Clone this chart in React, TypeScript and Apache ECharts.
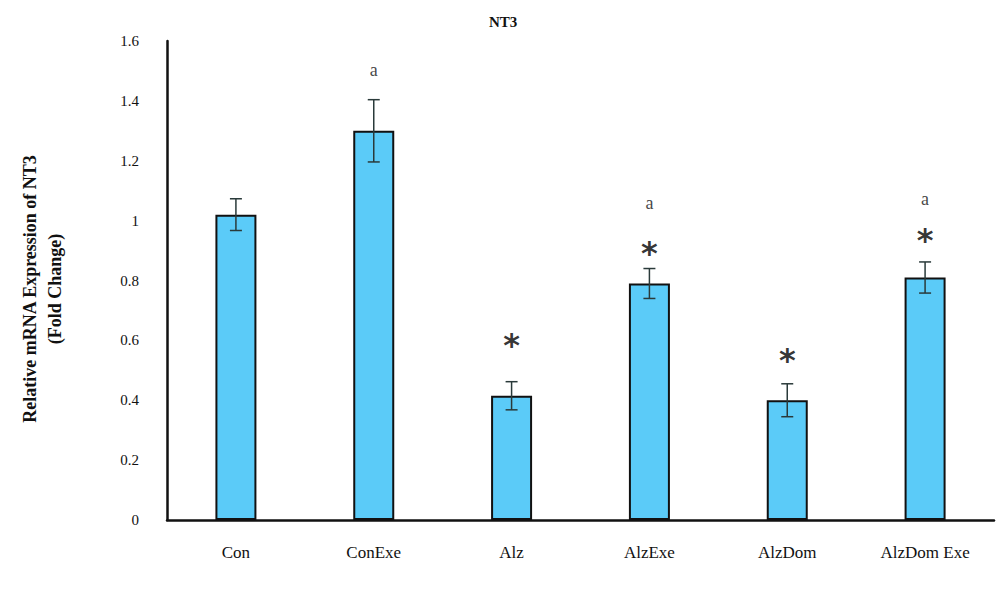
import React, { useEffect, useRef } from "react";
import * as echarts from "echarts";

const categories = ["Con", "ConExe", "Alz", "AlzExe", "AlzDom", "AlzDom Exe"];
const means = [1.02, 1.3, 0.415, 0.79, 0.4, 0.81];
const errors = [0.053, 0.104, 0.047, 0.05, 0.055, 0.052];
const starLevels: (number | null)[] = [null, null, 0.611, 0.918, 0.561, 0.962];
const letterLevels: (number | null)[] = [null, 1.503, null, 1.059, null, 1.072];
const yTicks = [0, 0.2, 0.4, 0.6, 0.8, 1, 1.2, 1.4, 1.6];

const FONT = "'Liberation Serif', 'DejaVu Serif', serif";

export default function App() {
  const ref = useRef<HTMLDivElement>(null);
  useEffect(() => {
    if (!ref.current) return;
    const chart = echarts.init(ref.current, null, { renderer: "svg" });
    const errData = means.map((m, i) => [i, m - errors[i], m + errors[i]]);
    chart.setOption({
      animation: false,
      backgroundColor: "#ffffff",
      title: {
        text: "NT3",
        left: 484,
        top: 9,
        textStyle: { fontFamily: FONT, fontSize: 15, fontWeight: "bold", color: "#111" },
      },
      graphic: [
        {
          type: "text",
          x: 42,
          y: 289,
          rotation: Math.PI / 2,
          style: {
            text: "Relative mRNA Expression of NT3\n(Fold Change)",
            font: "bold 18px " + FONT,
            fill: "#111",
            align: "center",
            verticalAlign: "middle",
            lineHeight: 25,
          },
        },
      ],
      grid: { left: 167, right: 6, top: 41, bottom: 71 },
      xAxis: {
        type: "category",
        data: categories,
        axisLine: { lineStyle: { color: "#111", width: 2.5 } },
        axisTick: { show: false },
        axisLabel: { fontFamily: FONT, fontSize: 17, color: "#111", margin: 24 },
      },
      yAxis: {
        type: "value",
        min: 0,
        max: 1.6,
        interval: 0.2,
        axisLine: { show: true, lineStyle: { color: "#111", width: 2.5 } },
        axisTick: { show: false },
        splitLine: { show: false },
        axisLabel: {
          fontFamily: FONT,
          fontSize: 15,
          color: "#111",
          margin: 28,
          formatter: (v: number) => {
            const t = yTicks.find((x) => Math.abs(x - v) < 1e-6);
            return t === undefined ? "" : String(t);
          },
        },
      },
      series: [
        {
          type: "bar",
          data: means,
          barWidth: 41,
          itemStyle: { color: "#5BCBF8", borderColor: "#111", borderWidth: 2 },
          z: 2,
        },
        {
          type: "custom",
          data: errData,
          z: 5,
          renderItem: (params: any, api: any) => {
            const x = api.coord([api.value(0), 0])[0];
            const lo = api.coord([api.value(0), api.value(1)])[1];
            const hi = api.coord([api.value(0), api.value(2)])[1];
            const w = 6;
            const style = { stroke: "#2a3a3a", lineWidth: 1.5 };
            return {
              type: "group",
              children: [
                { type: "line", shape: { x1: x, y1: lo, x2: x, y2: hi }, style },
                { type: "line", shape: { x1: x - w, y1: lo, x2: x + w, y2: lo }, style },
                { type: "line", shape: { x1: x - w, y1: hi, x2: x + w, y2: hi }, style },
              ],
            };
          },
        },
        {
          type: "scatter",
          data: starLevels.map((v, i) => (v === null ? null : [i, v])),
          symbolSize: 0,
          z: 6,
          label: {
            show: true,
            position: "inside",
            formatter: "*",
            fontFamily: "'DejaVu Sans', sans-serif",
            fontSize: 32,
            fontWeight: "bold",
            color: "#000",
            offset: [0, 8],
          },
        },
        {
          type: "scatter",
          data: letterLevels.map((v, i) => (v === null ? null : [i, v])),
          symbolSize: 0,
          z: 6,
          label: {
            show: true,
            position: "inside",
            formatter: "a",
            fontFamily: FONT,
            fontSize: 18,
            color: "#111",
          },
        },
      ],
    });
    return () => chart.dispose();
  }, []);
  return (
    <div
      ref={ref}
      style={{ position: "fixed", left: 0, top: 0, width: 1000, height: 591 }}
    />
  );
}
